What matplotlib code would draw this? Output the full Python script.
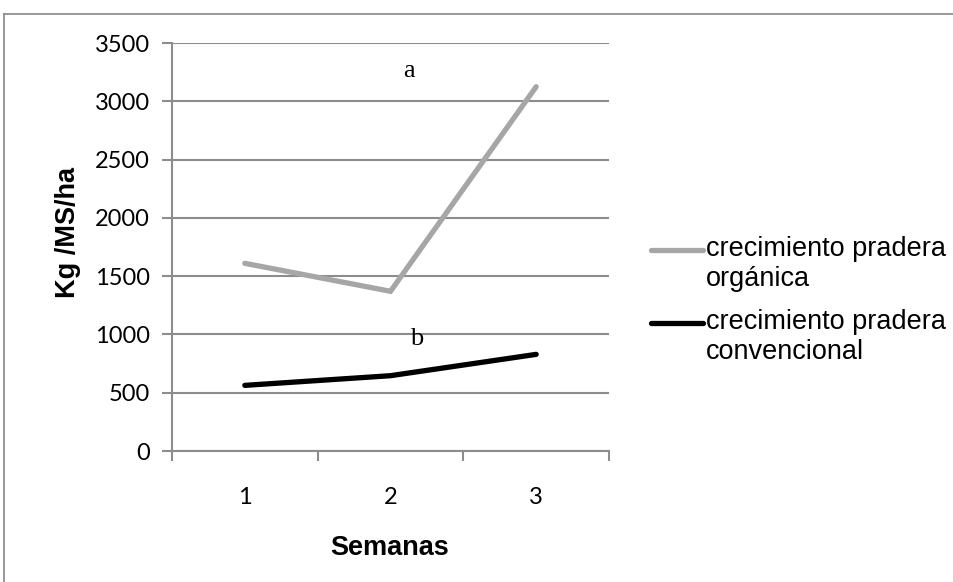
import matplotlib
matplotlib.use("Agg")
import matplotlib.pyplot as plt
from matplotlib.lines import Line2D

semanas = [1, 2, 3]
tick_labels = ["1", "2", "3"]
organica = [1610, 1370, 3125]
convencional = [563, 646, 829]
series_names = ["crecimiento pradera\norgánica", "crecimiento pradera\nconvencional"]
y_ticks = [0, 500, 1000, 1500, 2000, 2500, 3000, 3500]

W, H = 954, 582
fig = plt.figure(figsize=(W / 100, H / 100), dpi=100)
ax = fig.add_axes([172 / W, 1 - 451 / H, (609 - 172) / W, (451 - 43) / H])

grid_c = "#8c8c8c"
gray_c = "#a6a6a6"

ax.plot(semanas, organica, color=gray_c, lw=3.8, solid_capstyle="round",
        solid_joinstyle="miter", zorder=3)
ax.plot(semanas, convencional, color="black", lw=3.8, solid_capstyle="round",
        zorder=3)

ax.set_xlim(0.5, 3.5)
ax.set_ylim(0, 3500)
ax.set_yticks(y_ticks)
ax.set_yticklabels([str(v) for v in y_ticks])
ax.set_xticks(semanas)
ax.set_xticklabels(tick_labels)
ax.set_xticks([0.5, 1.5, 2.5, 3.5], minor=True)
ax.tick_params(axis="x", which="major", length=0, pad=26, labelsize=17)
ax.tick_params(axis="x", which="minor", length=7, width=1.5, color=grid_c, direction="out")
ax.tick_params(axis="y", length=7, width=1.5, color=grid_c, direction="out", pad=9,
               labelsize=17)
for lab in ax.get_xticklabels() + ax.get_yticklabels():
    lab.set_fontfamily(["Lato", "Open Sans", "DejaVu Sans"])
ax.yaxis.grid(True, color=grid_c, lw=1.5)
ax.set_axisbelow(True)
for s in ["top", "right"]:
    ax.spines[s].set_visible(False)
for s in ["left", "bottom"]:
    ax.spines[s].set_color(grid_c)
    ax.spines[s].set_linewidth(1.5)

ax.set_xlabel("Semanas", fontfamily="Liberation Sans", fontweight="bold", fontsize=19.5)
ax.xaxis.set_label_coords((390 - 172) / (609 - 172), -(548 - 451) / (451 - 43))
ax.xaxis.label.set_va("center")
ax.set_ylabel("Kg /MS/ha", fontfamily="Liberation Sans", fontweight="bold", fontsize=19.5)
ax.yaxis.set_label_coords(-(172 - 68) / (609 - 172), (451 - 232) / (451 - 43))
ax.yaxis.label.set_va("center")

ax.text(2.13, 3260, "a", fontfamily="Liberation Serif", fontsize=19, ha="center", va="center")
ax.text(2.18, 965, "b", fontfamily="Liberation Serif", fontsize=19, ha="center", va="center")

# legend (manual)
leg_colors = [gray_c, "black"]
leg_y = [250, 323]
for name, c, yy in zip(series_names, leg_colors, leg_y):
    fig.add_artist(Line2D([651 / W, 703 / W], [1 - yy / H, 1 - yy / H], color=c, lw=3.8,
                         solid_capstyle="round"))
    fig.text(706 / W, 1 - (yy - 14) / H, name, fontfamily="Liberation Sans", fontsize=19.5,
             ha="left", va="top", linespacing=1.2)

# outer border
fig.add_artist(Line2D([4.5 / W, 1], [1 - 13.5 / H, 1 - 13.5 / H], color="#888888", lw=1.2))
fig.add_artist(Line2D([4.5 / W, 4.5 / W], [0, 1 - 13.5 / H], color="#888888", lw=1.2))

fig.savefig("out.png", dpi=100)
